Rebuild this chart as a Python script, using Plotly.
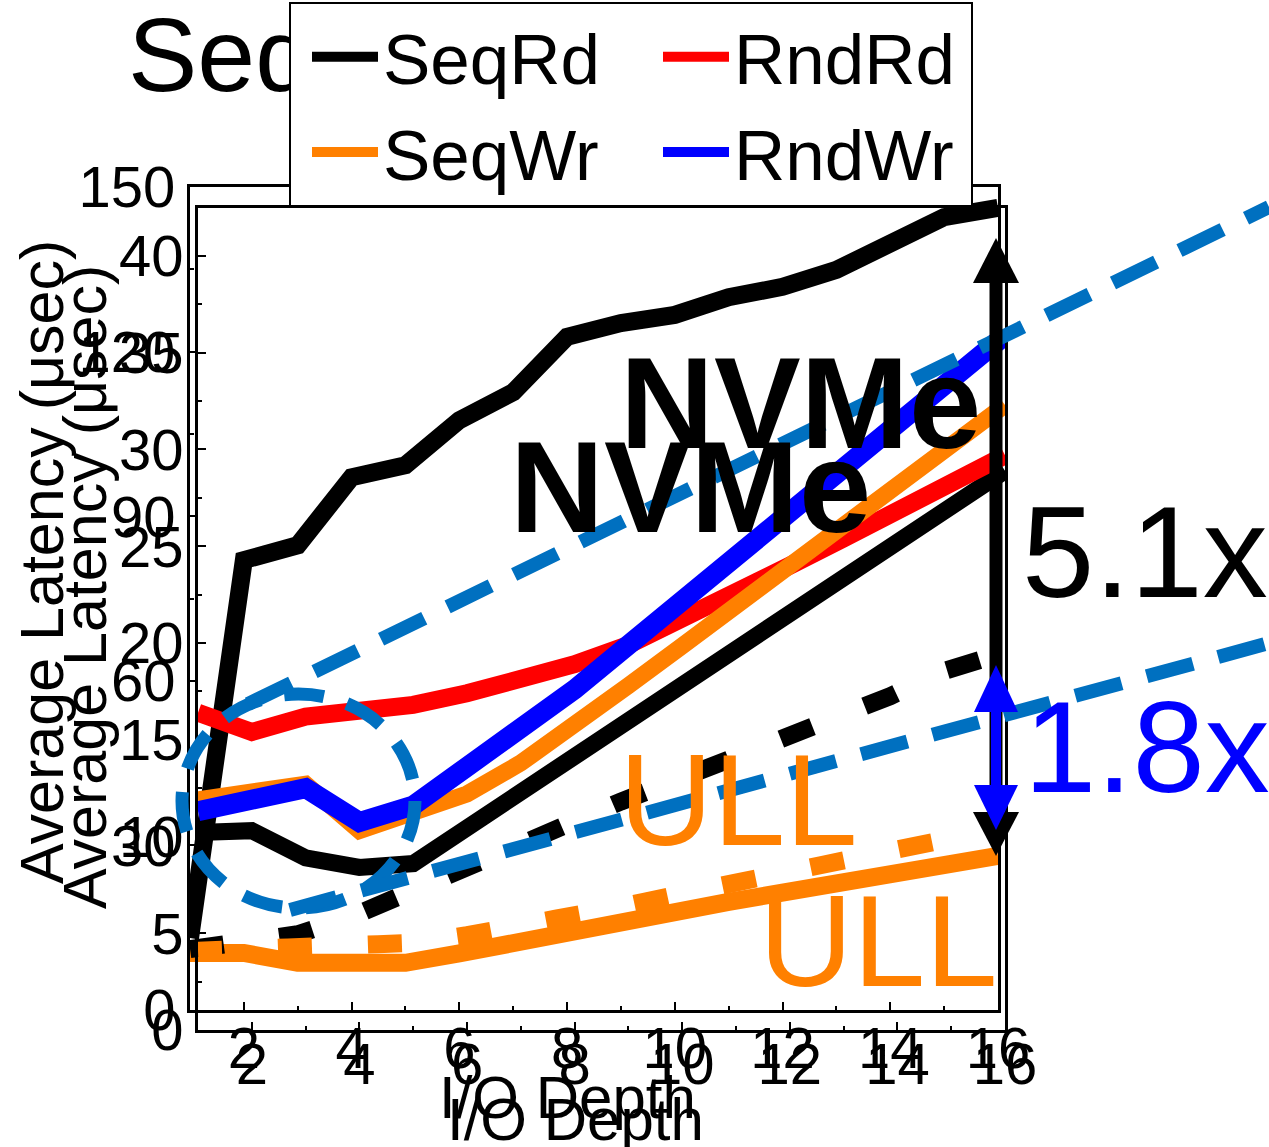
import plotly.graph_objects as go

# ---------------- data ----------------
depth = list(range(1, 17))
x_tickvals = [2, 4, 6, 8, 10, 12, 14, 16]

# panel A (0-150 usec scale)
a_seqrd_nvme = [13.1, 82.0, 84.7, 97.1, 99.3, 107.5, 112.6, 122.7, 125.2, 126.7, 129.9, 131.8, 134.9, 139.8, 144.5, 146.2]
a_seqrd_ull = [11.1, 12.3, 13.8, 17.0, 21.3, 25.8, 29.6, 33.6, 38.0, 41.8, 45.5, 49.7, 53.3, 57.2, 61.8, 64.8]
a_seqwr_ull = [10.4, 10.4, 8.6, 8.2, 8.6, 10.3, 12.3, 14.3, 16.1, 17.9, 19.7, 21.4, 23.1, 24.8, 26.5, 28.1]

# panel B (0-40 usec scale)
b_seqrd = [10.2, 10.3, 8.9, 8.4, 8.6, 10.45, 12.3, 14.15, 16.0, 17.85, 19.7, 21.5, 23.35, 25.2, 27.05, 28.9]
b_rndrd = [16.4, 15.4, 16.2, 16.4, 16.8, 17.4, 18.1, 18.9, 19.9, 21.2, 22.6, 24.0, 25.4, 26.9, 28.3, 29.7]
b_seqwr = [11.9, 12.3, 12.7, 10.3, 11.2, 12.2, 13.8, 15.7, 17.8, 19.85, 21.9, 24.0, 26.1, 28.2, 30.2, 32.3]
b_rndwr = [11.3, 11.9, 12.5, 10.75, 11.6, 13.6, 15.5, 17.6, 19.9, 22.2, 24.5, 26.8, 29.1, 31.3, 33.6, 35.9]
b_seqwr_ull = [4.1, 4.2, 4.2, 4.2, 4.5, 4.9, 5.35, 5.9, 6.45, 7.05, 7.65, 8.2, 8.8, 9.35, 9.9, 10.4]

title_text = "SeqRd"

FONT = "Liberation Sans, Arial, sans-serif"
BLACK, RED, ORANGE, BLUE, CALLOUT = "#000000", "#FF0000", "#FF8000", "#0000FF", "#0070C0"

# ---------------- geometry helpers (pixel -> paper) ----------------
FW, FH = 1269, 1147
PW = 1005                      # plot-area width (right margin 264 px)
def px(x):
    return x / PW
def py(y):
    return (FH - y) / FH

fig = go.Figure()

# panel A traces
fig.add_trace(go.Scatter(x=depth, y=a_seqrd_nvme, xaxis="x", yaxis="y", mode="lines",
                         line=dict(color=BLACK, width=18), showlegend=False, name="SeqRd NVMe"))
fig.add_trace(go.Scatter(x=depth, y=a_seqwr_ull, xaxis="x", yaxis="y", mode="lines",
                         line=dict(color=ORANGE, width=18), showlegend=False, name="SeqWr ULL"))
fig.add_trace(go.Scatter(x=depth, y=a_seqrd_ull, xaxis="x", yaxis="y", mode="lines",
                         line=dict(color=BLACK, width=18, dash="34px,56px"), showlegend=False, name="SeqRd ULL"))

# panel B traces
fig.add_trace(go.Scatter(x=depth, y=b_seqrd, xaxis="x2", yaxis="y2", mode="lines",
                         line=dict(color=BLACK, width=17), name="SeqRd"))
fig.add_trace(go.Scatter(x=depth, y=b_rndrd, xaxis="x2", yaxis="y2", mode="lines",
                         line=dict(color=RED, width=18), name="RndRd", legendwidth=232))
fig.add_trace(go.Scatter(x=depth, y=b_seqwr_ull, xaxis="x2", yaxis="y2", mode="lines",
                         line=dict(color=ORANGE, width=18, dash="24px,56px,10px,0px"),
                         showlegend=False, name="SeqWr ULL"))
fig.add_trace(go.Scatter(x=depth, y=b_seqwr, xaxis="x2", yaxis="y2", mode="lines",
                         line=dict(color=ORANGE, width=17), name="SeqWr"))
fig.add_trace(go.Scatter(x=depth, y=b_rndwr, xaxis="x2", yaxis="y2", mode="lines",
                         line=dict(color=BLUE, width=20), name="RndWr", legendwidth=232))

# figure title (drawn as text in its own hidden-axis cell so the legend box sits over it)
fig.add_trace(go.Scatter(x=[0.0], y=[0.5], xaxis="x3", yaxis="y3", mode="text",
                         text=[title_text], textposition="middle right", cliponaxis=False,
                         textfont=dict(size=104, family=FONT, color=BLACK),
                         showlegend=False, hoverinfo="skip", name="title"))

axis_common = dict(showline=True, linewidth=3, linecolor=BLACK, mirror=True,
                   ticks="inside", tickwidth=2, tickcolor=BLACK, ticklen=8,
                   showgrid=False, zeroline=False,
                   tickfont=dict(size=58, family=FONT, color=BLACK))

fig.update_layout(
    width=FW, height=FH,
    margin=dict(l=0, r=FW - PW, t=0, b=0, autoexpand=False),
    paper_bgcolor="white", plot_bgcolor="rgba(0,0,0,0)",
    font=dict(family=FONT, color=BLACK),
    xaxis=dict(domain=[px(190), px(998)], range=[1, 16], anchor="y", tickvals=x_tickvals,
               ticklabelstandoff=-15,
               minor=dict(ticks="inside", ticklen=4, tickwidth=2, dtick=1, tick0=1), **axis_common),
    yaxis=dict(domain=[py(1010), py(187)], range=[0, 150], anchor="x", dtick=30, tick0=0,
               minor=dict(ticks="inside", ticklen=4, tickwidth=2, dtick=15), **axis_common),
    xaxis2=dict(domain=[px(198), px(1005)], range=[1, 16], anchor="y2", tickvals=x_tickvals,
                ticklabelstandoff=-19,
                minor=dict(ticks="inside", ticklen=4, tickwidth=2, dtick=1, tick0=1), **axis_common),
    yaxis2=dict(domain=[py(1030), py(208)], range=[0, 42.48], anchor="x2", dtick=5, tick0=0,
                minor=dict(ticks="inside", ticklen=4, tickwidth=2, dtick=2.5), **axis_common),
    xaxis3=dict(domain=[px(128), px(700)], range=[0, 1], anchor="y3", visible=False, fixedrange=True),
    yaxis3=dict(domain=[py(130), py(0)], range=[0, 1], anchor="x3", visible=False, fixedrange=True),
    legend=dict(orientation="h", x=px(289), y=py(2), xanchor="left", yanchor="top",
                bgcolor="white", bordercolor=BLACK, borderwidth=2, indentation=16,
                font=dict(size=71, family=FONT, color=BLACK),
                itemwidth=66, entrywidth=254, traceorder="normal"),
)

# axis titles
for cx, cy in [(42, 562), (85, 587)]:
    fig.add_annotation(text="Average Latency (μsec)", x=px(cx), y=py(cy), xref="paper", yref="paper",
                       textangle=-90, showarrow=False, xanchor="center", yanchor="middle",
                       font=dict(size=61, family=FONT, color=BLACK))
for cx, cy in [(567, 1097), (575, 1119)]:
    fig.add_annotation(text="I/O Depth", x=px(cx), y=py(cy), xref="paper", yref="paper",
                       showarrow=False, xanchor="center", yanchor="middle",
                       font=dict(size=60, family=FONT, color=BLACK))

# in-plot labels
labels = [
    ("<b>NVMe</b>", 800, 403, BLACK),
    ("<b>NVMe</b>", 690, 487, BLACK),
    ("ULL", 738, 800, ORANGE),
    ("ULL", 878, 941, ORANGE),
    ("5.1x", 1145, 552, BLACK),
    ("1.8x", 1147, 747, BLUE),
]
for txt, cx, cy, col in labels:
    fig.add_annotation(text=txt, x=px(cx), y=py(cy), xref="paper", yref="paper",
                       showarrow=False, xanchor="center", yanchor="middle",
                       font=dict(size=130, family=FONT, color=col))

# call-out: dashed ellipse and two dashed lines
fig.add_shape(type="circle", xref="paper", yref="paper",
              x0=px(182), x1=px(415), y0=py(908), y1=py(694),
              line=dict(color=CALLOUT, width=13, dash="40px,24px"), layer="above")
fig.add_shape(type="line", xref="paper", yref="paper",
              x0=px(248), y0=py(704), x1=px(1269), y1=py(207),
              line=dict(color=CALLOUT, width=14, dash="48px,26px"), layer="above")
fig.add_shape(type="line", xref="paper", yref="paper",
              x0=px(290), y0=py(910), x1=px(1269), y1=py(643),
              line=dict(color=CALLOUT, width=14, dash="48px,26px"), layer="above")

# double arrows
def tri(tipx, tipy, basey, half):
    return (f"M{px(tipx)},{py(tipy)} L{px(tipx - half)},{py(basey)} "
            f"L{px(tipx + half)},{py(basey)} Z")

fig.add_shape(type="line", xref="paper", yref="paper", x0=px(996), x1=px(996),
              y0=py(275), y1=py(825), line=dict(color=BLACK, width=13), layer="above")
fig.add_shape(type="path", xref="paper", yref="paper", path=tri(996, 238, 283, 23),
              fillcolor=BLACK, line=dict(width=0), layer="above")
fig.add_shape(type="path", xref="paper", yref="paper", path=tri(996, 856, 812, 23),
              fillcolor=BLACK, line=dict(width=0), layer="above")

fig.add_shape(type="line", xref="paper", yref="paper", x0=px(996), x1=px(996),
              y0=py(705), y1=py(792), line=dict(color=BLUE, width=10), layer="above")
fig.add_shape(type="path", xref="paper", yref="paper", path=tri(996, 665, 712, 22),
              fillcolor=BLUE, line=dict(width=0), layer="above")
fig.add_shape(type="path", xref="paper", yref="paper", path=tri(996, 830, 785, 22),
              fillcolor=BLUE, line=dict(width=0), layer="above")

fig.write_html("out.html")
